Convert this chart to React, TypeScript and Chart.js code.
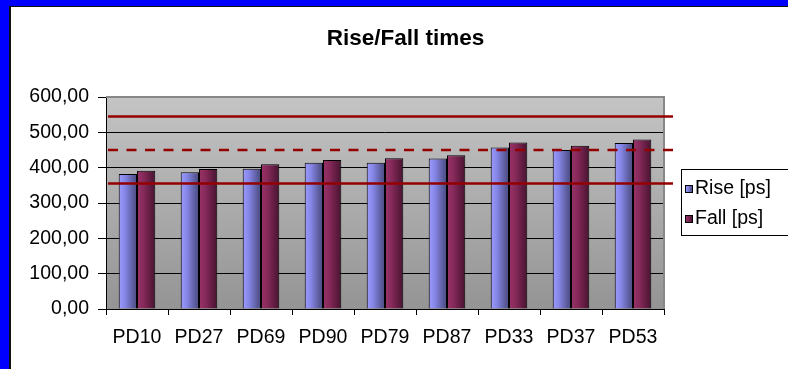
import React, { useEffect, useRef } from 'react';
import { Chart, registerables } from 'chart.js';

Chart.register(...registerables);

// Measured propagation times per pad
const categories = ['PD10', 'PD27', 'PD69', 'PD90', 'PD79', 'PD87', 'PD33', 'PD37', 'PD53'];
const riseValues = [382, 387, 397, 414, 414, 426, 457, 450, 470];
const fallValues = [391, 396, 410, 422, 427, 435, 471, 462, 480];
const seriesLabels = ['Rise [ps]', 'Fall [ps]'];

// Horizontal reference levels: limits (solid) and nominal (dashed)
const limitLevels = [545, 355];
const nominalLevels = [450];

const chartTitle = 'Rise/Fall times';
const yMin = 0;
const yMax = 600;
const yStep = 100;

const FONT = '"Liberation Sans", Arial, Helvetica, sans-serif';
const CATEGORY_PCT = 0.59;

// light -> dark horizontal shading for each series
const seriesShades: string[][] = [
  ['#9C9CFF', '#8585E6', '#5A5A9A', '#4C4C84'],
  ['#9A3368', '#87295A', '#5A1A3C', '#471430'],
];

function shadeGradient(ctx: CanvasRenderingContext2D, left: number, width: number, shades: string[]) {
  const g = ctx.createLinearGradient(left, 0, left + width, 0);
  g.addColorStop(0, shades[0]);
  g.addColorStop(0.35, shades[1]);
  g.addColorStop(0.8, shades[2]);
  g.addColorStop(1, shades[3]);
  return g;
}

function barFill(context: any) {
  const chart = context.chart;
  const shades = seriesShades[context.datasetIndex] || seriesShades[0];
  const xs = chart.scales && chart.scales.x;
  if (!xs || context.dataIndex === undefined || !chart.chartArea) return shades[1];
  const catW = xs.width / categories.length;
  const groupW = catW * CATEGORY_PCT;
  const barW = groupW / 2;
  const center = xs.getPixelForValue(context.dataIndex);
  const left = center - groupW / 2 + context.datasetIndex * barW;
  return shadeGradient(chart.ctx, left, barW, shades);
}

const fmt = (v: number) => v.toFixed(2).replace('.', ',');

const framePlugin = {
  id: 'frameAndPlot',
  beforeDraw(chart: any) {
    const { ctx, width, height, chartArea } = chart;
    ctx.save();
    ctx.fillStyle = '#0000FF';
    ctx.fillRect(0, 0, width, height);
    ctx.fillStyle = '#111111';
    ctx.fillRect(9, 6, width, height);
    ctx.fillStyle = '#FFFFFF';
    ctx.fillRect(11, 7, width, height);
    const g = ctx.createLinearGradient(0, chartArea.top, 0, chartArea.bottom);
    g.addColorStop(0, '#C4C4C4');
    g.addColorStop(1, '#949494');
    ctx.fillStyle = g;
    ctx.fillRect(chartArea.left, chartArea.top, chartArea.right - chartArea.left, chartArea.bottom - chartArea.top);
    ctx.restore();
  },
  beforeDatasetsDraw(chart: any) {
    const { ctx, chartArea } = chart;
    ctx.save();
    ctx.strokeStyle = '#888888';
    ctx.lineWidth = 2;
    ctx.beginPath();
    ctx.moveTo(chartArea.left, chartArea.top);
    ctx.lineTo(chartArea.right, chartArea.top);
    ctx.lineTo(chartArea.right, chartArea.bottom);
    ctx.stroke();
    ctx.restore();
  },
  afterDatasetsDraw(chart: any) {
    const { ctx, chartArea, scales } = chart;
    const y = scales.y;
    const x0 = chartArea.left + 2;
    const x1 = chartArea.right + 9;
    ctx.save();
    ctx.strokeStyle = '#940000';
    ctx.lineWidth = 2.5;
    for (const v of limitLevels) {
      const py = y.getPixelForValue(v);
      ctx.beginPath();
      ctx.moveTo(x0, py);
      ctx.lineTo(x1, py);
      ctx.stroke();
    }
    ctx.setLineDash([10, 8.5]);
    for (const v of nominalLevels) {
      const py = y.getPixelForValue(v);
      ctx.beginPath();
      ctx.moveTo(x0, py);
      ctx.lineTo(x1, py);
      ctx.stroke();
    }
    ctx.restore();
  },
  afterDraw(chart: any) {
    const { ctx } = chart;
    ctx.save();
    // title
    ctx.fillStyle = '#000000';
    ctx.font = `bold 22.5px ${FONT}`;
    ctx.textAlign = 'center';
    ctx.textBaseline = 'alphabetic';
    ctx.fillText(chartTitle, 405.5, 45);

    // legend
    const lx = 681.5;
    const ly = 169.5;
    ctx.fillStyle = '#FFFFFF';
    ctx.fillRect(lx, ly, 130, 66);
    ctx.strokeStyle = '#000000';
    ctx.lineWidth = 1;
    ctx.strokeRect(lx, ly, 130, 66);
    ctx.font = `19.5px ${FONT}`;
    ctx.textAlign = 'left';
    chart.data.datasets.forEach((ds: any, i: number) => {
      const my = 185.5 + i * 30;
      ctx.fillStyle = shadeGradient(ctx, 685.5, 7, seriesShades[i]);
      ctx.fillRect(685.5, my, 7, 7);
      ctx.strokeStyle = '#000000';
      ctx.strokeRect(685.5, my, 7, 7);
      ctx.fillStyle = '#000000';
      ctx.fillText(ds.label, 695, 193.5 + i * 30);
    });
    ctx.restore();
  },
};

export default function App() {
  const canvasRef = useRef<HTMLCanvasElement | null>(null);

  useEffect(() => {
    const canvas = canvasRef.current;
    if (!canvas) return;
    const chart = new Chart(canvas, {
      type: 'bar',
      data: {
        labels: categories,
        datasets: [
          {
            label: seriesLabels[0],
            data: riseValues,
            backgroundColor: barFill,
            borderColor: '#000000',
            borderWidth: 1,
            categoryPercentage: CATEGORY_PCT,
            barPercentage: 1,
          },
          {
            label: seriesLabels[1],
            data: fallValues,
            backgroundColor: barFill,
            borderColor: '#000000',
            borderWidth: 1,
            categoryPercentage: CATEGORY_PCT,
            barPercentage: 1,
          },
        ],
      },
      options: {
        responsive: false,
        animation: false,
        devicePixelRatio: 1,
        layout: { padding: { top: 97, right: 124, bottom: 0, left: 0 } },
        plugins: {
          legend: { display: false },
          title: { display: false },
          tooltip: { enabled: false },
        },
        scales: {
          x: {
            offset: true,
            grid: {
              display: true,
              offset: true,
              drawOnChartArea: false,
              drawTicks: true,
              tickLength: 6,
              color: '#000000',
            },
            border: { display: true, color: '#000000', width: 1 },
            ticks: {
              color: '#000000',
              font: { family: FONT, size: 19.5 },
              padding: 11,
              maxRotation: 0,
              autoSkip: false,
            },
            afterFit: (scale: any) => {
              scale.height = 60;
            },
          },
          y: {
            min: yMin,
            max: yMax,
            grid: {
              color: '#000000',
              lineWidth: 1,
              drawTicks: true,
              tickLength: 8,
            },
            border: { display: true, color: '#000000', width: 1 },
            ticks: {
              stepSize: yStep,
              color: '#000000',
              font: { family: FONT, size: 19.5 },
              padding: 9,
              callback: (v: any) => fmt(Number(v)),
            },
            afterFit: (scale: any) => {
              scale.width = 106;
            },
          },
        },
      },
      plugins: [framePlugin],
    });
    return () => chart.destroy();
  }, []);

  return (
    <div style={{ position: 'fixed', left: 0, top: 0, width: 788, height: 369, overflow: 'hidden' }}>
      <canvas ref={canvasRef} width={788} height={369} style={{ display: 'block', width: 788, height: 369 }} />
    </div>
  );
}
